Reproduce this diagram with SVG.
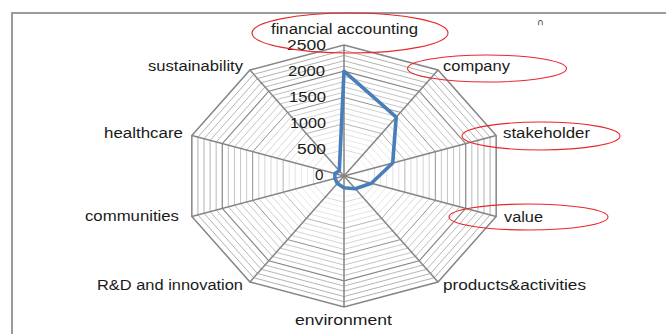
<svg xmlns="http://www.w3.org/2000/svg" width="666" height="334" viewBox="0 0 666 334">
<style>
.minor{fill:none;stroke:#ababab;stroke-width:1;vector-effect:non-scaling-stroke}
.major{fill:none;stroke:#858585;stroke-width:1.5;vector-effect:non-scaling-stroke}
.spoke{stroke:#858585;stroke-width:1.5}
.lbl{font-family:"Liberation Sans",Arial,sans-serif;font-size:15.5px;fill:#1a1a1a}
.num{font-family:"Liberation Sans",Arial,sans-serif;font-size:14px;fill:#1a1a1a}
.ann{fill:none;stroke:#e8262e;stroke-width:1.1}
</style>
<defs>
<polygon id="ring" points="0,-131 94.05,-105.98 152.17,-40.48 152.17,40.48 94.05,105.98 0,131 -94.05,105.98 -152.17,40.48 -152.17,-40.48 -94.05,-105.98"/>
</defs>
<rect width="666" height="334" fill="#fff"/>
<rect x="12" y="13" width="700" height="360" fill="none" stroke="#9a9a9a" stroke-width="2"/>
<text x="537" y="25" style="font-family:'DejaVu Sans',sans-serif;font-size:9px;fill:#333">∩</text>
<g id="grid" transform="translate(344,176)">
<use href="#ring" class="minor" transform="scale(0.04)"/>
<use href="#ring" class="minor" transform="scale(0.08)"/>
<use href="#ring" class="minor" transform="scale(0.12)"/>
<use href="#ring" class="minor" transform="scale(0.16)"/>
<use href="#ring" class="minor" transform="scale(0.24)"/>
<use href="#ring" class="minor" transform="scale(0.28)"/>
<use href="#ring" class="minor" transform="scale(0.32)"/>
<use href="#ring" class="minor" transform="scale(0.36)"/>
<use href="#ring" class="minor" transform="scale(0.44)"/>
<use href="#ring" class="minor" transform="scale(0.48)"/>
<use href="#ring" class="minor" transform="scale(0.52)"/>
<use href="#ring" class="minor" transform="scale(0.56)"/>
<use href="#ring" class="minor" transform="scale(0.64)"/>
<use href="#ring" class="minor" transform="scale(0.68)"/>
<use href="#ring" class="minor" transform="scale(0.72)"/>
<use href="#ring" class="minor" transform="scale(0.76)"/>
<use href="#ring" class="minor" transform="scale(0.84)"/>
<use href="#ring" class="minor" transform="scale(0.88)"/>
<use href="#ring" class="minor" transform="scale(0.92)"/>
<use href="#ring" class="minor" transform="scale(0.96)"/>
<use href="#ring" class="major" transform="scale(0.2)"/>
<use href="#ring" class="major" transform="scale(0.4)"/>
<use href="#ring" class="major" transform="scale(0.6)"/>
<use href="#ring" class="major" transform="scale(0.8)"/>
<use href="#ring" class="major"/>
<g class="spoke">
<line x1="0" y1="0" x2="0" y2="-131"/>
<line x1="0" y1="0" x2="94.05" y2="-105.98"/>
<line x1="0" y1="0" x2="152.17" y2="-40.48"/>
<line x1="0" y1="0" x2="152.17" y2="40.48"/>
<line x1="0" y1="0" x2="94.05" y2="105.98"/>
<line x1="0" y1="0" x2="0" y2="131"/>
<line x1="0" y1="0" x2="-94.05" y2="105.98"/>
<line x1="0" y1="0" x2="-152.17" y2="40.48"/>
<line x1="0" y1="0" x2="-152.17" y2="-40.48"/>
<line x1="0" y1="0" x2="-94.05" y2="-105.98"/>
</g>
</g>
<g id="axis-values">
<text class="num" x="287" y="50" textLength="39" lengthAdjust="spacingAndGlyphs">2500</text>
<text class="num" x="288" y="76" textLength="37" lengthAdjust="spacingAndGlyphs">2000</text>
<text class="num" x="289" y="102" textLength="37" lengthAdjust="spacingAndGlyphs">1500</text>
<text class="num" x="290" y="128" textLength="36" lengthAdjust="spacingAndGlyphs">1000</text>
<text class="num" x="297" y="154" textLength="29" lengthAdjust="spacingAndGlyphs">500</text>
<text class="num" x="315" y="180" textLength="8.5" lengthAdjust="spacingAndGlyphs">0</text>
</g>
<g id="series">
<polygon points="344,71.2 396.2,117.2 392.7,163 371.4,183.3 355.3,188.7 344,187.8 337.4,183.4 334.9,178.4 334.9,173.6 339.3,170.7" fill="none" stroke="#4a7ebb" stroke-width="3.6" stroke-linejoin="round"/>
</g>
<g id="n-financial"><text class="lbl" x="271" y="34" textLength="147" lengthAdjust="spacingAndGlyphs">financial accounting</text></g>
<g id="n-company"><text class="lbl" x="443" y="71" textLength="67" lengthAdjust="spacingAndGlyphs">company</text></g>
<g id="n-stakeholder"><text class="lbl" x="503" y="138" textLength="87" lengthAdjust="spacingAndGlyphs">stakeholder</text></g>
<g id="n-value"><text class="lbl" x="504" y="222" textLength="39" lengthAdjust="spacingAndGlyphs">value</text></g>
<g id="n-products"><text class="lbl" x="443" y="290" textLength="143" lengthAdjust="spacingAndGlyphs">products&amp;activities</text></g>
<g id="n-environment"><text class="lbl" x="295" y="325" textLength="97" lengthAdjust="spacingAndGlyphs">environment</text></g>
<g id="n-rd"><text class="lbl" x="97" y="290" textLength="146" lengthAdjust="spacingAndGlyphs">R&amp;D and innovation</text></g>
<g id="n-communities"><text class="lbl" x="85" y="221" textLength="94" lengthAdjust="spacingAndGlyphs">communities</text></g>
<g id="n-healthcare"><text class="lbl" x="104" y="138" textLength="79" lengthAdjust="spacingAndGlyphs">healthcare</text></g>
<g id="n-sustainability"><text class="lbl" x="148" y="71" textLength="95" lengthAdjust="spacingAndGlyphs">sustainability</text></g>
<g id="annotations">
<ellipse class="ann" cx="350" cy="33" rx="98" ry="20"/>
<ellipse class="ann" cx="487" cy="68.5" rx="79.5" ry="13.5"/>
<ellipse class="ann" cx="541" cy="136" rx="79" ry="14"/>
<ellipse class="ann" cx="528.5" cy="217" rx="79.5" ry="13"/>
</g>
</svg>
